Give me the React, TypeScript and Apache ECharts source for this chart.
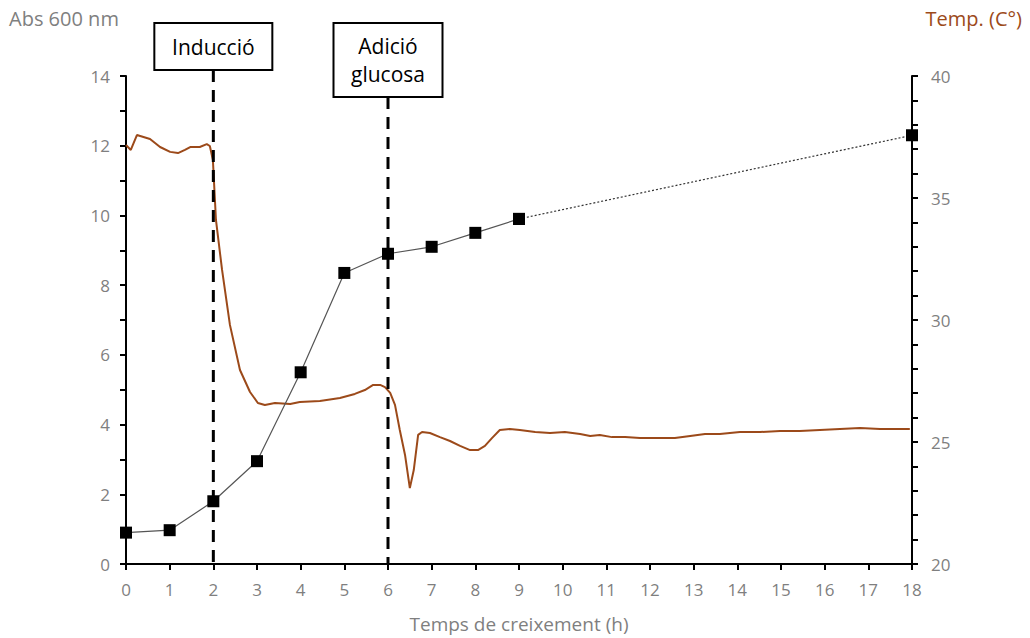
import React, { useEffect, useRef } from "react";
import * as echarts from "echarts";

// Absorbance (600 nm) measurements
const absHours = [0, 1, 2, 3, 4, 5, 6, 7, 8, 9];
const absValues = [0.9, 0.97, 1.8, 2.95, 5.5, 8.35, 8.9, 9.1, 9.5, 9.9];
const absLateHours = [9, 18];
const absLateValues = [9.9, 12.3];

// Temperature trace (hours, °C)
const tempHours = [
  0.0, 0.11, 0.25, 0.55, 0.78, 1.01, 1.19, 1.35, 1.47, 1.69, 1.85, 1.92, 1.99, 2.06, 2.2, 2.38, 2.61, 2.84,
  3.02, 3.18, 3.41, 3.76, 3.98, 4.44, 4.9, 5.24, 5.47, 5.66, 5.82, 5.93, 6.05, 6.16, 6.27, 6.39, 6.5, 6.59,
  6.69, 6.78, 6.96, 7.19, 7.42, 7.65, 7.88, 8.06, 8.22, 8.38, 8.56, 8.79, 9.02, 9.37, 9.71, 10.05, 10.4,
  10.63, 10.85, 11.13, 11.43, 11.77, 12.23, 12.57, 12.92, 13.26, 13.6, 14.06, 14.52, 14.98, 15.43, 15.89,
  16.35, 16.81, 17.27, 17.61, 17.95,
];
const tempValues = [
  37.17, 36.97, 37.58, 37.42, 37.09, 36.89, 36.84, 36.97, 37.09, 37.09, 37.21, 37.13, 36.56, 34.1, 32.05,
  29.8, 27.95, 27.05, 26.6, 26.52, 26.6, 26.56, 26.64, 26.68, 26.8, 26.97, 27.13, 27.34, 27.34, 27.25,
  27.01, 26.52, 25.49, 24.47, 23.11, 23.85, 25.29, 25.41, 25.37, 25.2, 25.04, 24.84, 24.67, 24.67, 24.84,
  25.16, 25.49, 25.53, 25.49, 25.41, 25.37, 25.41, 25.33, 25.25, 25.29, 25.2, 25.2, 25.16, 25.16, 25.16,
  25.25, 25.33, 25.33, 25.41, 25.41, 25.45, 25.45, 25.49, 25.53, 25.57, 25.53, 25.53, 25.53,
];

// Annotations
const events = [
  { hour: 2, label: "Inducció", width: 118, height: 47 },
  { hour: 6, label: "Adició\nglucosa", width: 109, height: 74 },
];

const FONT = "'Open Sans', 'Noto Sans', sans-serif";
const GRAY = "#7f7f7f";
const BROWN = "#9c4a1a";

const mkLine = () => ({ show: true, onZero: false, lineStyle: { color: "#000", width: 2 } });
const mkTick = () => ({ show: true, inside: false, length: 6, lineStyle: { color: "#000", width: 2 } });
const mkMinor = (n: number) => ({ show: true, splitNumber: n, length: 6, lineStyle: { color: "#000", width: 2 } });
const mkLabel = (margin: number) => ({ show: true, color: GRAY, fontSize: 17, margin, fontFamily: FONT });

export default function App() {
  const ref = useRef<HTMLDivElement>(null);
  useEffect(() => {
    if (!ref.current) return;
    const chart = echarts.init(ref.current, null, { renderer: "svg" });
    chart.setOption({
      animation: false,
      backgroundColor: "#fff",
      textStyle: { fontFamily: FONT },
      grid: { left: 126, right: 118, top: 76, bottom: 74, outerBoundsMode: "none", containLabel: false },
      xAxis: {
        type: "value",
        min: 0,
        max: 18,
        interval: 1,
        name: "Temps de creixement (h)",
        nameLocation: "middle",
        nameGap: 50,
        nameTextStyle: { color: GRAY, fontSize: 19, fontFamily: FONT },
        axisLine: mkLine(),
        axisTick: mkTick(),
        splitLine: { show: false },
        axisLabel: mkLabel(17),
      },
      yAxis: [
        {
          type: "value",
          min: 0,
          max: 14,
          interval: 2,
          position: "left",
          axisLine: mkLine(),
          axisTick: mkTick(),
          minorTick: mkMinor(2),
          splitLine: { show: false },
          minorSplitLine: { show: false },
          axisLabel: mkLabel(16),
        },
        {
          type: "value",
          min: 20,
          max: 40,
          interval: 5,
          position: "right",
          axisLine: mkLine(),
          axisTick: mkTick(),
          minorTick: mkMinor(5),
          splitLine: { show: false },
          minorSplitLine: { show: false },
          axisLabel: mkLabel(19),
        },
      ],
      series: [
        {
          type: "line",
          yAxisIndex: 1,
          data: tempHours.map((h, i) => [h, tempValues[i]]),
          showSymbol: false,
          symbol: "none",
          lineStyle: { color: BROWN, width: 2 },
          z: 2,
        },
        {
          type: "line",
          yAxisIndex: 0,
          data: absLateHours.map((h, i) => [h, absLateValues[i]]),
          symbol: "rect",
          symbolSize: 12,
          itemStyle: { color: "#000" },
          lineStyle: { color: "#333", width: 1.2, type: [2, 2] },
          z: 3,
        },
        {
          type: "line",
          yAxisIndex: 0,
          data: absHours.map((h, i) => [h, absValues[i]]),
          symbol: "rect",
          symbolSize: 12,
          itemStyle: { color: "#000" },
          lineStyle: { color: "#555", width: 1.2 },
          z: 4,
        },
      ],
    });

    const bottomY = chart.convertToPixel({ xAxisIndex: 0, yAxisIndex: 0 }, [0, 0])[1];
    const boxTop = 23;
    const graphics: any[] = [
      {
        type: "text",
        left: 9,
        top: 8,
        style: { text: "Abs 600 nm", fill: GRAY, font: `20px ${FONT}` },
      },
      {
        type: "text",
        right: 8,
        top: 8,
        style: { text: "Temp. (C°)", fill: BROWN, font: `20px ${FONT}` },
      },
    ];
    events.forEach((ev) => {
      const px = chart.convertToPixel({ xAxisIndex: 0, yAxisIndex: 0 }, [ev.hour, 0])[0];
      graphics.push({
        type: "line",
        shape: { x1: px, y1: boxTop + ev.height, x2: px, y2: bottomY },
        style: { stroke: "#000", lineWidth: 3, lineDash: [12, 8] },
        z: 10,
      });
      graphics.push({
        type: "rect",
        shape: { x: px - ev.width / 2, y: boxTop, width: ev.width, height: ev.height },
        style: { fill: "#fff", stroke: "#000", lineWidth: 2 },
        z: 11,
      });
      graphics.push({
        type: "text",
        x: px,
        y: boxTop + ev.height / 2,
        style: {
          text: ev.label,
          fill: "#000",
          font: `21px ${FONT}`,
          align: "center",
          verticalAlign: "middle",
          lineHeight: 28,
        },
        z: 12,
      });
    });
    chart.setOption({ graphic: graphics });

    return () => chart.dispose();
  }, []);
  return (
    <div
      ref={ref}
      style={{ position: "fixed", left: 0, top: 0, width: 1030, height: 638 }}
    />
  );
}
